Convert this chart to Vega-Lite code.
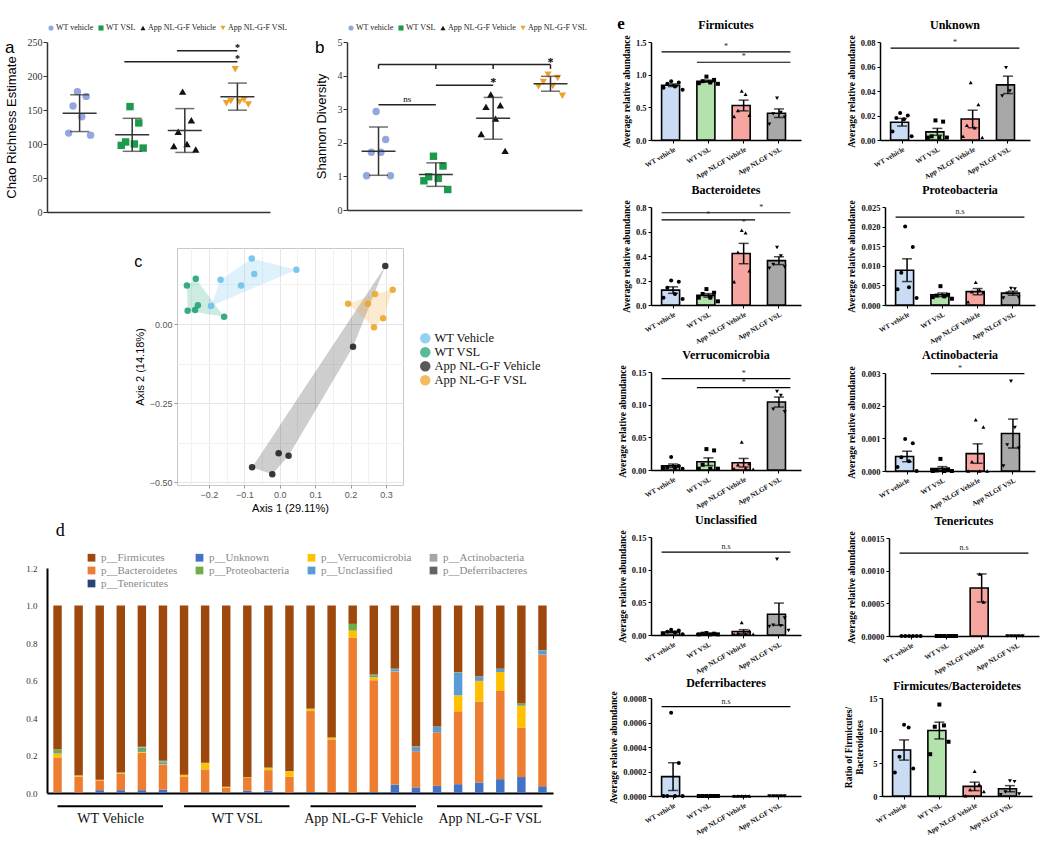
{
"$schema":"https://vega.github.io/schema/vega-lite/v6.json",
"padding":{"top":14,"left":5,"right":5,"bottom":0},
"background":"white",
"config":{"view":{"stroke":null},"font":"Liberation Sans","axis":{"grid":false,"labelOverlap":false}},
"datasets":{
"chao":[
{"group":"WT vehicle","rep":3,"value":177},{"group":"WT vehicle","rep":5,"value":170},{"group":"WT vehicle","rep":2,"value":156},{"group":"WT vehicle","rep":4,"value":140},{"group":"WT vehicle","rep":1,"value":116},{"group":"WT vehicle","rep":6,"value":113},
{"group":"WT VSL","rep":3,"value":155},{"group":"WT VSL","rep":5,"value":131},{"group":"WT VSL","rep":2,"value":103},{"group":"WT VSL","rep":4,"value":100},{"group":"WT VSL","rep":1,"value":98},{"group":"WT VSL","rep":6,"value":94},
{"group":"App NL-G-F Vehicle","rep":3,"value":177},{"group":"App NL-G-F Vehicle","rep":5,"value":135},{"group":"App NL-G-F Vehicle","rep":2,"value":118},{"group":"App NL-G-F Vehicle","rep":4,"value":100},{"group":"App NL-G-F Vehicle","rep":1,"value":97},{"group":"App NL-G-F Vehicle","rep":6,"value":92},
{"group":"App NL-G-F VSL","rep":3,"value":210},{"group":"App NL-G-F VSL","rep":5,"value":165},{"group":"App NL-G-F VSL","rep":2,"value":163},{"group":"App NL-G-F VSL","rep":4,"value":162},{"group":"App NL-G-F VSL","rep":1,"value":160},{"group":"App NL-G-F VSL","rep":6,"value":158}
],
"sigA":[
{"from":"WT VSL","to":"App NL-G-F VSL","sy":221,"label":"*"},
{"from":"App NL-G-F Vehicle","to":"App NL-G-F VSL","sy":237,"label":"*"}
],
"shannon":[
{"group":"WT vehicle","rep":3,"value":2.93},{"group":"WT vehicle","rep":5,"value":2.1},{"group":"WT vehicle","rep":2,"value":1.72},{"group":"WT vehicle","rep":4,"value":1.72},{"group":"WT vehicle","rep":1,"value":1.02},{"group":"WT vehicle","rep":6,"value":1.02},
{"group":"WT VSL","rep":3,"value":1.6},{"group":"WT VSL","rep":5,"value":1.31},{"group":"WT VSL","rep":2,"value":0.99},{"group":"WT VSL","rep":4,"value":0.94},{"group":"WT VSL","rep":1,"value":0.87},{"group":"WT VSL","rep":6,"value":0.61},
{"group":"App NL-G-F Vehicle","rep":3,"value":3.44},{"group":"App NL-G-F Vehicle","rep":5,"value":3.12},{"group":"App NL-G-F Vehicle","rep":2,"value":3.07},{"group":"App NL-G-F Vehicle","rep":4,"value":2.72},{"group":"App NL-G-F Vehicle","rep":1,"value":2.26},{"group":"App NL-G-F Vehicle","rep":6,"value":1.76},
{"group":"App NL-G-F VSL","rep":3,"value":4.03},{"group":"App NL-G-F VSL","rep":5,"value":3.93},{"group":"App NL-G-F VSL","rep":2,"value":3.81},{"group":"App NL-G-F VSL","rep":4,"value":3.69},{"group":"App NL-G-F VSL","rep":1,"value":3.68},{"group":"App NL-G-F VSL","rep":6,"value":3.4}
],
"sigB":[
{"t":"line","from":"WT vehicle","to":"App NL-G-F VSL","sy":4.33},
{"t":"line","from":"WT VSL","to":"App NL-G-F Vehicle","sy":3.71},
{"t":"line","from":"WT vehicle","to":"WT VSL","sy":3.13},
{"t":"tick","at":"WT vehicle","sy":4.33,"sy2":4.2},
{"t":"tick","at":"WT VSL","sy":4.33,"sy2":4.2},
{"t":"tick","at":"App NL-G-F Vehicle","sy":4.33,"sy2":4.2},
{"t":"tick","at":"App NL-G-F VSL","sy":4.33,"sy2":4.2},
{"t":"lab","at":"App NL-G-F VSL","sy":4.33,"label":"*"},
{"t":"lab","at":"App NL-G-F Vehicle","sy":3.71,"label":"*"},
{"t":"lab","at":"WT vehicle","sy":3.13,"label":"ns","mid":true}
],
"pcoa":[
{"group":"WT Vehicle","a1":-0.079,"a2":0.207},{"group":"WT Vehicle","a1":0.047,"a2":0.171},{"group":"WT Vehicle","a1":-0.072,"a2":0.158},{"group":"WT Vehicle","a1":-0.167,"a2":0.14},{"group":"WT Vehicle","a1":-0.109,"a2":0.122},{"group":"WT Vehicle","a1":-0.194,"a2":0.057},
{"group":"WT VSL","a1":-0.262,"a2":0.122},{"group":"WT VSL","a1":-0.237,"a2":0.143},{"group":"WT VSL","a1":-0.231,"a2":0.059},{"group":"WT VSL","a1":-0.239,"a2":0.044},{"group":"WT VSL","a1":-0.26,"a2":0.042},{"group":"WT VSL","a1":-0.157,"a2":0.023},
{"group":"App NL-G-F Vehicle","a1":0.298,"a2":0.183},{"group":"App NL-G-F Vehicle","a1":0.207,"a2":-0.072},{"group":"App NL-G-F Vehicle","a1":-0.003,"a2":-0.408},{"group":"App NL-G-F Vehicle","a1":0.025,"a2":-0.416},{"group":"App NL-G-F Vehicle","a1":-0.078,"a2":-0.452},{"group":"App NL-G-F Vehicle","a1":-0.021,"a2":-0.474},
{"group":"App NL-G-F VSL","a1":0.193,"a2":0.064},{"group":"App NL-G-F VSL","a1":0.249,"a2":0.064},{"group":"App NL-G-F VSL","a1":0.269,"a2":0.095},{"group":"App NL-G-F VSL","a1":0.319,"a2":0.108},{"group":"App NL-G-F VSL","a1":0.292,"a2":0.018},{"group":"App NL-G-F VSL","a1":0.266,"a2":-0.01}
],
"hull":[
{"hg":"WT Vehicle","vi":1,"a1":-0.079,"a2":0.207},{"hg":"WT Vehicle","vi":2,"a1":0.047,"a2":0.171},{"hg":"WT Vehicle","vi":3,"a1":-0.194,"a2":0.057},{"hg":"WT Vehicle","vi":4,"a1":-0.167,"a2":0.14},
{"hg":"WT VSL","vi":1,"a1":-0.237,"a2":0.143},{"hg":"WT VSL","vi":2,"a1":-0.157,"a2":0.023},{"hg":"WT VSL","vi":3,"a1":-0.26,"a2":0.042},{"hg":"WT VSL","vi":4,"a1":-0.262,"a2":0.122},
{"hg":"App NL-G-F Vehicle","vi":1,"a1":0.298,"a2":0.183},{"hg":"App NL-G-F Vehicle","vi":2,"a1":0.207,"a2":-0.072},{"hg":"App NL-G-F Vehicle","vi":3,"a1":0.025,"a2":-0.416},{"hg":"App NL-G-F Vehicle","vi":4,"a1":-0.021,"a2":-0.474},{"hg":"App NL-G-F Vehicle","vi":5,"a1":-0.078,"a2":-0.452},
{"hg":"App NL-G-F VSL","vi":1,"a1":0.193,"a2":0.064},{"hg":"App NL-G-F VSL","vi":2,"a1":0.269,"a2":0.095},{"hg":"App NL-G-F VSL","vi":3,"a1":0.319,"a2":0.108},{"hg":"App NL-G-F VSL","vi":4,"a1":0.292,"a2":0.018},{"hg":"App NL-G-F VSL","vi":5,"a1":0.266,"a2":-0.01}
],
"stack":[
{"s":"S01","p":"p__Unknown","k":1,"v":0.003},{"s":"S01","p":"p__Bacteroidetes","k":3,"v":0.187},{"s":"S01","p":"p__Verrucomicrobia","k":4,"v":0.02},{"s":"S01","p":"p__Unclassified","k":5,"v":0.003},{"s":"S01","p":"p__Proteobacteria","k":6,"v":0.017},{"s":"S01","p":"p__Actinobacteria","k":7,"v":0.002},{"s":"S01","p":"p__Firmicutes","k":9,"v":0.768},
{"s":"S02","p":"p__Unknown","k":1,"v":0.002},{"s":"S02","p":"p__Bacteroidetes","k":3,"v":0.085},{"s":"S02","p":"p__Verrucomicrobia","k":4,"v":0.005},{"s":"S02","p":"p__Proteobacteria","k":6,"v":0.002},{"s":"S02","p":"p__Actinobacteria","k":7,"v":0.001},{"s":"S02","p":"p__Firmicutes","k":9,"v":0.905},
{"s":"S03","p":"p__Unknown","k":1,"v":0.015},{"s":"S03","p":"p__Bacteroidetes","k":3,"v":0.052},{"s":"S03","p":"p__Verrucomicrobia","k":4,"v":0.002},{"s":"S03","p":"p__Proteobacteria","k":6,"v":0.001},{"s":"S03","p":"p__Actinobacteria","k":7,"v":0.001},{"s":"S03","p":"p__Firmicutes","k":9,"v":0.929},
{"s":"S04","p":"p__Unknown","k":1,"v":0.015},{"s":"S04","p":"p__Bacteroidetes","k":3,"v":0.088},{"s":"S04","p":"p__Verrucomicrobia","k":4,"v":0.003},{"s":"S04","p":"p__Proteobacteria","k":6,"v":0.002},{"s":"S04","p":"p__Actinobacteria","k":7,"v":0.001},{"s":"S04","p":"p__Firmicutes","k":9,"v":0.891},
{"s":"S05","p":"p__Unknown","k":1,"v":0.015},{"s":"S05","p":"p__Bacteroidetes","k":3,"v":0.2},{"s":"S05","p":"p__Verrucomicrobia","k":4,"v":0.004},{"s":"S05","p":"p__Unclassified","k":5,"v":0.005},{"s":"S05","p":"p__Proteobacteria","k":6,"v":0.018},{"s":"S05","p":"p__Actinobacteria","k":7,"v":0.004},{"s":"S05","p":"p__Deferribacteres","k":8,"v":0.001},{"s":"S05","p":"p__Firmicutes","k":9,"v":0.753},
{"s":"S06","p":"p__Unknown","k":1,"v":0.018},{"s":"S06","p":"p__Bacteroidetes","k":3,"v":0.132},{"s":"S06","p":"p__Verrucomicrobia","k":4,"v":0.003},{"s":"S06","p":"p__Unclassified","k":5,"v":0.008},{"s":"S06","p":"p__Proteobacteria","k":6,"v":0.008},{"s":"S06","p":"p__Actinobacteria","k":7,"v":0.003},{"s":"S06","p":"p__Firmicutes","k":9,"v":0.828},
{"s":"S07","p":"p__Unknown","k":1,"v":0.003},{"s":"S07","p":"p__Bacteroidetes","k":3,"v":0.085},{"s":"S07","p":"p__Verrucomicrobia","k":4,"v":0.008},{"s":"S07","p":"p__Proteobacteria","k":6,"v":0.001},{"s":"S07","p":"p__Firmicutes","k":9,"v":0.903},
{"s":"S08","p":"p__Unknown","k":1,"v":0.004},{"s":"S08","p":"p__Bacteroidetes","k":3,"v":0.122},{"s":"S08","p":"p__Verrucomicrobia","k":4,"v":0.033},{"s":"S08","p":"p__Proteobacteria","k":6,"v":0.003},{"s":"S08","p":"p__Firmicutes","k":9,"v":0.838},
{"s":"S09","p":"p__Unknown","k":1,"v":0.003},{"s":"S09","p":"p__Bacteroidetes","k":3,"v":0.025},{"s":"S09","p":"p__Verrucomicrobia","k":4,"v":0.004},{"s":"S09","p":"p__Proteobacteria","k":6,"v":0.001},{"s":"S09","p":"p__Firmicutes","k":9,"v":0.967},
{"s":"S10","p":"p__Unknown","k":1,"v":0.012},{"s":"S10","p":"p__Bacteroidetes","k":3,"v":0.068},{"s":"S10","p":"p__Verrucomicrobia","k":4,"v":0.003},{"s":"S10","p":"p__Proteobacteria","k":6,"v":0.001},{"s":"S10","p":"p__Firmicutes","k":9,"v":0.916},
{"s":"S11","p":"p__Unknown","k":1,"v":0.012},{"s":"S11","p":"p__Bacteroidetes","k":3,"v":0.11},{"s":"S11","p":"p__Verrucomicrobia","k":4,"v":0.01},{"s":"S11","p":"p__Proteobacteria","k":6,"v":0.004},{"s":"S11","p":"p__Firmicutes","k":9,"v":0.864},
{"s":"S12","p":"p__Unknown","k":1,"v":0.002},{"s":"S12","p":"p__Bacteroidetes","k":3,"v":0.085},{"s":"S12","p":"p__Verrucomicrobia","k":4,"v":0.028},{"s":"S12","p":"p__Proteobacteria","k":6,"v":0.002},{"s":"S12","p":"p__Firmicutes","k":9,"v":0.883},
{"s":"S13","p":"p__Unknown","k":1,"v":0.005},{"s":"S13","p":"p__Bacteroidetes","k":3,"v":0.432},{"s":"S13","p":"p__Verrucomicrobia","k":4,"v":0.01},{"s":"S13","p":"p__Proteobacteria","k":6,"v":0.004},{"s":"S13","p":"p__Firmicutes","k":9,"v":0.549},
{"s":"S14","p":"p__Unknown","k":1,"v":0.002},{"s":"S14","p":"p__Bacteroidetes","k":3,"v":0.284},{"s":"S14","p":"p__Verrucomicrobia","k":4,"v":0.009},{"s":"S14","p":"p__Proteobacteria","k":6,"v":0.001},{"s":"S14","p":"p__Firmicutes","k":9,"v":0.704},
{"s":"S15","p":"p__Unknown","k":1,"v":0.002},{"s":"S15","p":"p__Bacteroidetes","k":3,"v":0.826},{"s":"S15","p":"p__Verrucomicrobia","k":4,"v":0.038},{"s":"S15","p":"p__Proteobacteria","k":6,"v":0.036},{"s":"S15","p":"p__Firmicutes","k":9,"v":0.098},
{"s":"S16","p":"p__Unknown","k":1,"v":0.005},{"s":"S16","p":"p__Bacteroidetes","k":3,"v":0.597},{"s":"S16","p":"p__Verrucomicrobia","k":4,"v":0.016},{"s":"S16","p":"p__Unclassified","k":5,"v":0.007},{"s":"S16","p":"p__Proteobacteria","k":6,"v":0.007},{"s":"S16","p":"p__Firmicutes","k":9,"v":0.368},
{"s":"S17","p":"p__Unknown","k":1,"v":0.045},{"s":"S17","p":"p__Bacteroidetes","k":3,"v":0.602},{"s":"S17","p":"p__Verrucomicrobia","k":4,"v":0.001},{"s":"S17","p":"p__Unclassified","k":5,"v":0.012},{"s":"S17","p":"p__Proteobacteria","k":6,"v":0.003},{"s":"S17","p":"p__Firmicutes","k":9,"v":0.337},
{"s":"S18","p":"p__Unknown","k":1,"v":0.029},{"s":"S18","p":"p__Tenericutes","k":2,"v":0.001},{"s":"S18","p":"p__Bacteroidetes","k":3,"v":0.193},{"s":"S18","p":"p__Unclassified","k":5,"v":0.022},{"s":"S18","p":"p__Proteobacteria","k":6,"v":0.002},{"s":"S18","p":"p__Actinobacteria","k":7,"v":0.003},{"s":"S18","p":"p__Firmicutes","k":9,"v":0.75},
{"s":"S19","p":"p__Unknown","k":1,"v":0.038},{"s":"S19","p":"p__Bacteroidetes","k":3,"v":0.286},{"s":"S19","p":"p__Unclassified","k":5,"v":0.029},{"s":"S19","p":"p__Proteobacteria","k":6,"v":0.002},{"s":"S19","p":"p__Firmicutes","k":9,"v":0.645},
{"s":"S20","p":"p__Unknown","k":1,"v":0.047},{"s":"S20","p":"p__Bacteroidetes","k":3,"v":0.389},{"s":"S20","p":"p__Verrucomicrobia","k":4,"v":0.085},{"s":"S20","p":"p__Unclassified","k":5,"v":0.121},{"s":"S20","p":"p__Proteobacteria","k":6,"v":0.003},{"s":"S20","p":"p__Firmicutes","k":9,"v":0.355},
{"s":"S21","p":"p__Unknown","k":1,"v":0.056},{"s":"S21","p":"p__Bacteroidetes","k":3,"v":0.432},{"s":"S21","p":"p__Verrucomicrobia","k":4,"v":0.11},{"s":"S21","p":"p__Unclassified","k":5,"v":0.022},{"s":"S21","p":"p__Proteobacteria","k":6,"v":0.002},{"s":"S21","p":"p__Firmicutes","k":9,"v":0.378},
{"s":"S22","p":"p__Unknown","k":1,"v":0.074},{"s":"S22","p":"p__Bacteroidetes","k":3,"v":0.47},{"s":"S22","p":"p__Verrucomicrobia","k":4,"v":0.101},{"s":"S22","p":"p__Unclassified","k":5,"v":0.016},{"s":"S22","p":"p__Proteobacteria","k":6,"v":0.002},{"s":"S22","p":"p__Firmicutes","k":9,"v":0.337},
{"s":"S23","p":"p__Unknown","k":1,"v":0.085},{"s":"S23","p":"p__Bacteroidetes","k":3,"v":0.264},{"s":"S23","p":"p__Verrucomicrobia","k":4,"v":0.116},{"s":"S23","p":"p__Unclassified","k":5,"v":0.004},{"s":"S23","p":"p__Proteobacteria","k":6,"v":0.01},{"s":"S23","p":"p__Firmicutes","k":9,"v":0.521},
{"s":"S24","p":"p__Unknown","k":1,"v":0.036},{"s":"S24","p":"p__Bacteroidetes","k":3,"v":0.702},{"s":"S24","p":"p__Unclassified","k":5,"v":0.022},{"s":"S24","p":"p__Proteobacteria","k":6,"v":0.002},{"s":"S24","p":"p__Firmicutes","k":9,"v":0.238}
],
"grp":[
{"g":"WT Vehicle","from":"S01","to":"S06","at":"S04"},
{"g":"WT VSL","from":"S07","to":"S12","at":"S10"},
{"g":"App NL-G-F Vehicle","from":"S13","to":"S18","at":"S16"},
{"g":"App NL-G-F VSL","from":"S19","to":"S24","at":"S22"}
],
"e":[
{"panel":"Firmicutes","kind":"pt","group":"WV","rep":3,"value":0.9},{"panel":"Firmicutes","kind":"pt","group":"WV","rep":5,"value":0.88},{"panel":"Firmicutes","kind":"pt","group":"WV","rep":2,"value":0.86},{"panel":"Firmicutes","kind":"pt","group":"WV","rep":4,"value":0.82},{"panel":"Firmicutes","kind":"pt","group":"WV","rep":1,"value":0.8},{"panel":"Firmicutes","kind":"pt","group":"WV","rep":6,"value":0.77},
{"panel":"Firmicutes","kind":"pt","group":"WS","rep":3,"value":0.97},{"panel":"Firmicutes","kind":"pt","group":"WS","rep":5,"value":0.92},{"panel":"Firmicutes","kind":"pt","group":"WS","rep":2,"value":0.9},{"panel":"Firmicutes","kind":"pt","group":"WS","rep":4,"value":0.88},{"panel":"Firmicutes","kind":"pt","group":"WS","rep":1,"value":0.87},{"panel":"Firmicutes","kind":"pt","group":"WS","rep":6,"value":0.86},
{"panel":"Firmicutes","kind":"pt","group":"AV","rep":3,"value":0.75},{"panel":"Firmicutes","kind":"pt","group":"AV","rep":4,"value":0.7},{"panel":"Firmicutes","kind":"pt","group":"AV","rep":2,"value":0.45},{"panel":"Firmicutes","kind":"pt","group":"AV","rep":5,"value":0.38},{"panel":"Firmicutes","kind":"pt","group":"AV","rep":1,"value":0.36},
{"panel":"Firmicutes","kind":"pt","group":"AS","rep":3,"value":0.64},{"panel":"Firmicutes","kind":"pt","group":"AS","rep":4,"value":0.42},{"panel":"Firmicutes","kind":"pt","group":"AS","rep":2,"value":0.4},{"panel":"Firmicutes","kind":"pt","group":"AS","rep":5,"value":0.35},{"panel":"Firmicutes","kind":"pt","group":"AS","rep":1,"value":0.24},
{"panel":"Firmicutes","kind":"sig","from":"WV","to":"AS","sy":1.35,"label":"*","at":"WS","mid":true},
{"panel":"Firmicutes","kind":"sig","from":"WS","to":"AS","sy":1.19,"label":"*","at":"AV"},
{"panel":"Unknown","kind":"pt","group":"WV","rep":3,"value":0.022},{"panel":"Unknown","kind":"pt","group":"WV","rep":5,"value":0.02},{"panel":"Unknown","kind":"pt","group":"WV","rep":2,"value":0.018},{"panel":"Unknown","kind":"pt","group":"WV","rep":4,"value":0.017},{"panel":"Unknown","kind":"pt","group":"WV","rep":1,"value":0.007},{"panel":"Unknown","kind":"pt","group":"WV","rep":6,"value":0.003},
{"panel":"Unknown","kind":"pt","group":"WS","rep":3,"value":0.016},{"panel":"Unknown","kind":"pt","group":"WS","rep":5,"value":0.015},{"panel":"Unknown","kind":"pt","group":"WS","rep":2,"value":0.003},{"panel":"Unknown","kind":"pt","group":"WS","rep":4,"value":0.002},{"panel":"Unknown","kind":"pt","group":"WS","rep":1,"value":0.002},{"panel":"Unknown","kind":"pt","group":"WS","rep":6,"value":0.002},
{"panel":"Unknown","kind":"pt","group":"AV","rep":3,"value":0.047},{"panel":"Unknown","kind":"pt","group":"AV","rep":5,"value":0.029},{"panel":"Unknown","kind":"pt","group":"AV","rep":2,"value":0.012},{"panel":"Unknown","kind":"pt","group":"AV","rep":4,"value":0.01},{"panel":"Unknown","kind":"pt","group":"AV","rep":1,"value":0.003},{"panel":"Unknown","kind":"pt","group":"AV","rep":6,"value":0.002},
{"panel":"Unknown","kind":"pt","group":"AS","rep":3,"value":0.059},{"panel":"Unknown","kind":"pt","group":"AS","rep":4,"value":0.04},{"panel":"Unknown","kind":"pt","group":"AS","rep":2,"value":0.036},
{"panel":"Unknown","kind":"sig","from":"WV","to":"AS","sy":0.075,"label":"*","at":"WS","mid":true},
{"panel":"Bacteroidetes","kind":"pt","group":"WV","rep":3,"value":0.2},{"panel":"Bacteroidetes","kind":"pt","group":"WV","rep":5,"value":0.19},{"panel":"Bacteroidetes","kind":"pt","group":"WV","rep":2,"value":0.14},{"panel":"Bacteroidetes","kind":"pt","group":"WV","rep":4,"value":0.09},{"panel":"Bacteroidetes","kind":"pt","group":"WV","rep":1,"value":0.06},{"panel":"Bacteroidetes","kind":"pt","group":"WV","rep":6,"value":0.05},
{"panel":"Bacteroidetes","kind":"pt","group":"WS","rep":3,"value":0.13},{"panel":"Bacteroidetes","kind":"pt","group":"WS","rep":5,"value":0.1},{"panel":"Bacteroidetes","kind":"pt","group":"WS","rep":2,"value":0.09},{"panel":"Bacteroidetes","kind":"pt","group":"WS","rep":4,"value":0.06},{"panel":"Bacteroidetes","kind":"pt","group":"WS","rep":1,"value":0.06},{"panel":"Bacteroidetes","kind":"pt","group":"WS","rep":6,"value":0.03},
{"panel":"Bacteroidetes","kind":"pt","group":"AV","rep":3,"value":0.61},{"panel":"Bacteroidetes","kind":"pt","group":"AV","rep":4,"value":0.59},{"panel":"Bacteroidetes","kind":"pt","group":"AV","rep":2,"value":0.43},{"panel":"Bacteroidetes","kind":"pt","group":"AV","rep":5,"value":0.28},{"panel":"Bacteroidetes","kind":"pt","group":"AV","rep":1,"value":0.19},
{"panel":"Bacteroidetes","kind":"pt","group":"AS","rep":3,"value":0.47},{"panel":"Bacteroidetes","kind":"pt","group":"AS","rep":4,"value":0.4},{"panel":"Bacteroidetes","kind":"pt","group":"AS","rep":2,"value":0.33},{"panel":"Bacteroidetes","kind":"pt","group":"AS","rep":5,"value":0.31},{"panel":"Bacteroidetes","kind":"pt","group":"AS","rep":1,"value":0.3},
{"panel":"Bacteroidetes","kind":"sig","from":"WV","to":"AS","sy":0.753,"label":"*","at":"AV","mid":true},
{"panel":"Bacteroidetes","kind":"sig","from":"WV","to":"AV","sy":0.695,"label":"*","at":"WS"},
{"panel":"Bacteroidetes","kind":"sig","sy":0.625,"label":"*","at":"AV"},
{"panel":"Proteobacteria","kind":"pt","group":"WV","rep":3,"value":0.02},{"panel":"Proteobacteria","kind":"pt","group":"WV","rep":5,"value":0.0148},{"panel":"Proteobacteria","kind":"pt","group":"WV","rep":2,"value":0.0082},{"panel":"Proteobacteria","kind":"pt","group":"WV","rep":4,"value":0.0045},{"panel":"Proteobacteria","kind":"pt","group":"WV","rep":1,"value":0.004},{"panel":"Proteobacteria","kind":"pt","group":"WV","rep":6,"value":0.0018},
{"panel":"Proteobacteria","kind":"pt","group":"WS","rep":3,"value":0.0048},{"panel":"Proteobacteria","kind":"pt","group":"WS","rep":5,"value":0.0026},{"panel":"Proteobacteria","kind":"pt","group":"WS","rep":2,"value":0.0024},{"panel":"Proteobacteria","kind":"pt","group":"WS","rep":4,"value":0.0022},{"panel":"Proteobacteria","kind":"pt","group":"WS","rep":1,"value":0.002},{"panel":"Proteobacteria","kind":"pt","group":"WS","rep":6,"value":0.0016},
{"panel":"Proteobacteria","kind":"pt","group":"AV","rep":3,"value":0.0058},{"panel":"Proteobacteria","kind":"pt","group":"AV","rep":4,"value":0.0038},{"panel":"Proteobacteria","kind":"pt","group":"AV","rep":2,"value":0.0034},{"panel":"Proteobacteria","kind":"pt","group":"AV","rep":5,"value":0.0032},{"panel":"Proteobacteria","kind":"pt","group":"AV","rep":1,"value":0.0008},
{"panel":"Proteobacteria","kind":"pt","group":"AS","rep":3,"value":0.0042},{"panel":"Proteobacteria","kind":"pt","group":"AS","rep":4,"value":0.0041},{"panel":"Proteobacteria","kind":"pt","group":"AS","rep":2,"value":0.003},{"panel":"Proteobacteria","kind":"pt","group":"AS","rep":5,"value":0.002},{"panel":"Proteobacteria","kind":"pt","group":"AS","rep":1,"value":0.0018},
{"panel":"Proteobacteria","kind":"sig","from":"WV","to":"AS","sy":0.0224,"label":"n.s","at":"WS","mid":true},
{"panel":"Verrucomicrobia","kind":"pt","group":"WV","rep":3,"value":0.02},{"panel":"Verrucomicrobia","kind":"pt","group":"WV","rep":5,"value":0.006},{"panel":"Verrucomicrobia","kind":"pt","group":"WV","rep":2,"value":0.004},{"panel":"Verrucomicrobia","kind":"pt","group":"WV","rep":4,"value":0.003},{"panel":"Verrucomicrobia","kind":"pt","group":"WV","rep":1,"value":0.003},{"panel":"Verrucomicrobia","kind":"pt","group":"WV","rep":6,"value":0.002},
{"panel":"Verrucomicrobia","kind":"pt","group":"WS","rep":3,"value":0.032},{"panel":"Verrucomicrobia","kind":"pt","group":"WS","rep":5,"value":0.03},{"panel":"Verrucomicrobia","kind":"pt","group":"WS","rep":2,"value":0.008},{"panel":"Verrucomicrobia","kind":"pt","group":"WS","rep":4,"value":0.002},{"panel":"Verrucomicrobia","kind":"pt","group":"WS","rep":1,"value":0.002},{"panel":"Verrucomicrobia","kind":"pt","group":"WS","rep":6,"value":0.002},
{"panel":"Verrucomicrobia","kind":"pt","group":"AV","rep":3,"value":0.043},{"panel":"Verrucomicrobia","kind":"pt","group":"AV","rep":5,"value":0.01},{"panel":"Verrucomicrobia","kind":"pt","group":"AV","rep":2,"value":0.008},{"panel":"Verrucomicrobia","kind":"pt","group":"AV","rep":4,"value":0.003},{"panel":"Verrucomicrobia","kind":"pt","group":"AV","rep":1,"value":0.002},{"panel":"Verrucomicrobia","kind":"pt","group":"AV","rep":6,"value":0.001},
{"panel":"Verrucomicrobia","kind":"pt","group":"AS","rep":3,"value":0.12},{"panel":"Verrucomicrobia","kind":"pt","group":"AS","rep":4,"value":0.114},{"panel":"Verrucomicrobia","kind":"pt","group":"AS","rep":2,"value":0.093},{"panel":"Verrucomicrobia","kind":"pt","group":"AS","rep":5,"value":0.089},
{"panel":"Verrucomicrobia","kind":"sig","from":"WV","to":"AS","sy":0.14,"label":"*","at":"AV"},
{"panel":"Verrucomicrobia","kind":"sig","from":"WS","to":"AS","sy":0.126,"label":"*","at":"AV"},
{"panel":"Actinobacteria","kind":"pt","group":"WV","rep":3,"value":0.00098},{"panel":"Actinobacteria","kind":"pt","group":"WV","rep":5,"value":0.00085},{"panel":"Actinobacteria","kind":"pt","group":"WV","rep":2,"value":0.00042},{"panel":"Actinobacteria","kind":"pt","group":"WV","rep":4,"value":0.0003},{"panel":"Actinobacteria","kind":"pt","group":"WV","rep":1,"value":0.00012},{"panel":"Actinobacteria","kind":"pt","group":"WV","rep":6,"value":0},
{"panel":"Actinobacteria","kind":"pt","group":"WS","rep":3,"value":0.00037},{"panel":"Actinobacteria","kind":"pt","group":"WS","rep":5,"value":0.00005},{"panel":"Actinobacteria","kind":"pt","group":"WS","rep":2,"value":0.00002},{"panel":"Actinobacteria","kind":"pt","group":"WS","rep":4,"value":0},{"panel":"Actinobacteria","kind":"pt","group":"WS","rep":1,"value":0},{"panel":"Actinobacteria","kind":"pt","group":"WS","rep":6,"value":0},
{"panel":"Actinobacteria","kind":"pt","group":"AV","rep":3,"value":0.00157},{"panel":"Actinobacteria","kind":"pt","group":"AV","rep":5,"value":0.00135},{"panel":"Actinobacteria","kind":"pt","group":"AV","rep":2,"value":0.00028},{"panel":"Actinobacteria","kind":"pt","group":"AV","rep":4,"value":0},{"panel":"Actinobacteria","kind":"pt","group":"AV","rep":1,"value":0},{"panel":"Actinobacteria","kind":"pt","group":"AV","rep":6,"value":0},
{"panel":"Actinobacteria","kind":"pt","group":"AS","rep":3,"value":0.00275},{"panel":"Actinobacteria","kind":"pt","group":"AS","rep":4,"value":0.00133},{"panel":"Actinobacteria","kind":"pt","group":"AS","rep":2,"value":0.0008},{"panel":"Actinobacteria","kind":"pt","group":"AS","rep":5,"value":0.0007},{"panel":"Actinobacteria","kind":"pt","group":"AS","rep":1,"value":0.00015},
{"panel":"Actinobacteria","kind":"sig","from":"WS","to":"AS","sy":0.00298,"label":"*","at":"WS","mid":true},
{"panel":"Unclassified","kind":"pt","group":"WV","rep":3,"value":0.008},{"panel":"Unclassified","kind":"pt","group":"WV","rep":5,"value":0.007},{"panel":"Unclassified","kind":"pt","group":"WV","rep":2,"value":0.005},{"panel":"Unclassified","kind":"pt","group":"WV","rep":4,"value":0.004},{"panel":"Unclassified","kind":"pt","group":"WV","rep":1,"value":0.002},{"panel":"Unclassified","kind":"pt","group":"WV","rep":6,"value":0.001},
{"panel":"Unclassified","kind":"pt","group":"WS","rep":3,"value":0.003},{"panel":"Unclassified","kind":"pt","group":"WS","rep":5,"value":0.002},{"panel":"Unclassified","kind":"pt","group":"WS","rep":2,"value":0.002},{"panel":"Unclassified","kind":"pt","group":"WS","rep":4,"value":0.001},{"panel":"Unclassified","kind":"pt","group":"WS","rep":1,"value":0.001},{"panel":"Unclassified","kind":"pt","group":"WS","rep":6,"value":0.001},
{"panel":"Unclassified","kind":"pt","group":"AV","rep":3,"value":0.019},{"panel":"Unclassified","kind":"pt","group":"AV","rep":5,"value":0.006},{"panel":"Unclassified","kind":"pt","group":"AV","rep":2,"value":0.003},{"panel":"Unclassified","kind":"pt","group":"AV","rep":4,"value":0.002},{"panel":"Unclassified","kind":"pt","group":"AV","rep":1,"value":0.001},{"panel":"Unclassified","kind":"pt","group":"AV","rep":6,"value":0.001},
{"panel":"Unclassified","kind":"pt","group":"AS","rep":3,"value":0.116},{"panel":"Unclassified","kind":"pt","group":"AS","rep":5,"value":0.026},{"panel":"Unclassified","kind":"pt","group":"AS","rep":2,"value":0.015},{"panel":"Unclassified","kind":"pt","group":"AS","rep":4,"value":0.014},{"panel":"Unclassified","kind":"pt","group":"AS","rep":1,"value":0.013},{"panel":"Unclassified","kind":"pt","group":"AS","rep":6,"value":0.007},
{"panel":"Unclassified","kind":"sig","from":"WV","to":"AS","sy":0.127,"label":"n.s","at":"WS","mid":true},
{"panel":"Tenericutes","kind":"pt","group":"WV","rep":1,"value":0},{"panel":"Tenericutes","kind":"pt","group":"WV","rep":2,"value":0},{"panel":"Tenericutes","kind":"pt","group":"WV","rep":3,"value":0},{"panel":"Tenericutes","kind":"pt","group":"WV","rep":4,"value":0},{"panel":"Tenericutes","kind":"pt","group":"WV","rep":5,"value":0},{"panel":"Tenericutes","kind":"pt","group":"WV","rep":6,"value":0},
{"panel":"Tenericutes","kind":"pt","group":"WS","rep":1,"value":0},{"panel":"Tenericutes","kind":"pt","group":"WS","rep":2,"value":0},{"panel":"Tenericutes","kind":"pt","group":"WS","rep":3,"value":0},{"panel":"Tenericutes","kind":"pt","group":"WS","rep":4,"value":0},{"panel":"Tenericutes","kind":"pt","group":"WS","rep":5,"value":0},{"panel":"Tenericutes","kind":"pt","group":"WS","rep":6,"value":0},
{"panel":"Tenericutes","kind":"pt","group":"AV","rep":3,"value":0.00095},{"panel":"Tenericutes","kind":"pt","group":"AV","rep":4,"value":0.00052},
{"panel":"Tenericutes","kind":"pt","group":"AS","rep":1,"value":0},{"panel":"Tenericutes","kind":"pt","group":"AS","rep":2,"value":0},{"panel":"Tenericutes","kind":"pt","group":"AS","rep":3,"value":0},{"panel":"Tenericutes","kind":"pt","group":"AS","rep":4,"value":0},{"panel":"Tenericutes","kind":"pt","group":"AS","rep":5,"value":0},
{"panel":"Tenericutes","kind":"sig","from":"WV","to":"AS","sy":0.00127,"label":"n.s","at":"WS","mid":true},
{"panel":"Deferribacteres","kind":"pt","group":"WV","rep":3,"value":0.00068},{"panel":"Deferribacteres","kind":"pt","group":"WV","rep":5,"value":0.00027},{"panel":"Deferribacteres","kind":"pt","group":"WV","rep":2,"value":0},{"panel":"Deferribacteres","kind":"pt","group":"WV","rep":4,"value":0},{"panel":"Deferribacteres","kind":"pt","group":"WV","rep":1,"value":0},{"panel":"Deferribacteres","kind":"pt","group":"WV","rep":6,"value":0},
{"panel":"Deferribacteres","kind":"pt","group":"WS","rep":1,"value":0},{"panel":"Deferribacteres","kind":"pt","group":"WS","rep":2,"value":0},{"panel":"Deferribacteres","kind":"pt","group":"WS","rep":3,"value":0},{"panel":"Deferribacteres","kind":"pt","group":"WS","rep":4,"value":0},{"panel":"Deferribacteres","kind":"pt","group":"WS","rep":5,"value":0},{"panel":"Deferribacteres","kind":"pt","group":"WS","rep":6,"value":0},
{"panel":"Deferribacteres","kind":"pt","group":"AV","rep":1,"value":0},{"panel":"Deferribacteres","kind":"pt","group":"AV","rep":2,"value":0},{"panel":"Deferribacteres","kind":"pt","group":"AV","rep":3,"value":0},{"panel":"Deferribacteres","kind":"pt","group":"AV","rep":4,"value":0},{"panel":"Deferribacteres","kind":"pt","group":"AV","rep":5,"value":0},
{"panel":"Deferribacteres","kind":"pt","group":"AS","rep":1,"value":0},{"panel":"Deferribacteres","kind":"pt","group":"AS","rep":2,"value":0},{"panel":"Deferribacteres","kind":"pt","group":"AS","rep":3,"value":0},{"panel":"Deferribacteres","kind":"pt","group":"AS","rep":4,"value":0},{"panel":"Deferribacteres","kind":"pt","group":"AS","rep":5,"value":0},
{"panel":"Deferribacteres","kind":"sig","from":"WV","to":"AS","sy":0.00073,"label":"n.s","at":"WS","mid":true},
{"panel":"FB","kind":"pt","group":"WV","rep":3,"value":10.9},{"panel":"FB","kind":"pt","group":"WV","rep":4,"value":10.5},{"panel":"FB","kind":"pt","group":"WV","rep":2,"value":6.0},{"panel":"FB","kind":"pt","group":"WV","rep":5,"value":4.2},{"panel":"FB","kind":"pt","group":"WV","rep":1,"value":3.6},
{"panel":"FB","kind":"pt","group":"WS","rep":3,"value":14.0},{"panel":"FB","kind":"pt","group":"WS","rep":4,"value":10.8},{"panel":"FB","kind":"pt","group":"WS","rep":2,"value":10.6},{"panel":"FB","kind":"pt","group":"WS","rep":5,"value":8.3},{"panel":"FB","kind":"pt","group":"WS","rep":1,"value":6.4},
{"panel":"FB","kind":"pt","group":"AV","rep":3,"value":3.8},{"panel":"FB","kind":"pt","group":"AV","rep":4,"value":1.8},{"panel":"FB","kind":"pt","group":"AV","rep":2,"value":1.0},{"panel":"FB","kind":"pt","group":"AV","rep":5,"value":0.7},{"panel":"FB","kind":"pt","group":"AV","rep":1,"value":0.05},
{"panel":"FB","kind":"pt","group":"AS","rep":3,"value":2.3},{"panel":"FB","kind":"pt","group":"AS","rep":4,"value":2.2},{"panel":"FB","kind":"pt","group":"AS","rep":2,"value":0.6},{"panel":"FB","kind":"pt","group":"AS","rep":5,"value":0.3},{"panel":"FB","kind":"pt","group":"AS","rep":1,"value":0.2}
]
},
"spacing":20,
"resolve":{"scale":{"color":"independent","shape":"independent","fill":"independent","xOffset":"independent"}},
"hconcat":[
{"spacing":8,
 "resolve":{"scale":{"color":"independent","shape":"independent","fill":"independent","xOffset":"independent"}},
 "vconcat":[
 {"spacing":27,
  "resolve":{"scale":{"color":"independent","shape":"independent","fill":"independent","xOffset":"independent"}},
  "hconcat":[
  {"data":{"name":"chao"},"width":223,"height":170,
   "title":{"text":"a","anchor":"start","frame":"bounds","offset":-33,"fontSize":17,"fontWeight":"normal","font":"Liberation Sans"},
   "layer":[
    {"mark":{"type":"point","filled":true,"size":55,"opacity":1},
     "encoding":{
      "x":{"field":"group","type":"nominal","title":null,"scale":{"domain":["WT vehicle","WT VSL","App NL-G-F Vehicle","App NL-G-F VSL"],"paddingInner":0.5,"paddingOuter":0.37},"axis":{"labels":false,"ticks":false,"domainWidth":1.5,"domainColor":"#333"}},
      "xOffset":{"field":"rep","type":"nominal"},
      "y":{"field":"value","type":"quantitative","title":"Chao Richness Estimate","scale":{"domain":[0,250],"nice":false},"axis":{"values":[0,50,100,150,200,250],"tickCount":12,"format":"d","labelOverlap":false,"labelFont":"Liberation Serif","labelFontSize":10,"titleFont":"Liberation Sans","titleFontSize":13,"titleFontWeight":"normal","titlePadding":9,"domainWidth":1.5,"domainColor":"#333","tickColor":"#333","tickSize":4,"labelPadding":1,"labelColor":"#333"}},
      "color":{"field":"group","type":"nominal","scale":{"domain":["WT vehicle","WT VSL","App NL-G-F Vehicle","App NL-G-F VSL"],"range":["#93a6dd","#1a9a4a","#111111","#eea12d"]},"legend":{"orient":"top","direction":"horizontal","title":null,"labelFont":"Liberation Serif","labelFontSize":8,"symbolSize":26,"labelOffset":1,"columnPadding":3,"offset":10,"padding":0,"labelColor":"#222"}},
      "shape":{"field":"group","type":"nominal","scale":{"domain":["WT vehicle","WT VSL","App NL-G-F Vehicle","App NL-G-F VSL"],"range":["circle","square","triangle-up","triangle-down"]},"legend":{"orient":"top","direction":"horizontal","title":null,"labelFont":"Liberation Serif","labelFontSize":8,"symbolSize":26,"labelOffset":1,"columnPadding":3,"offset":10,"padding":0,"labelColor":"#222"}}}},
    {"mark":{"type":"errorbar","extent":"stdev","ticks":{"size":19},"thickness":1.5,"color":"#333"},
     "encoding":{"x":{"field":"group","type":"nominal","title":null},"y":{"field":"value","type":"quantitative","title":"Chao Richness Estimate"}}},
    {"mark":{"type":"tick","size":34,"thickness":1.5,"color":"#333"},
     "encoding":{"x":{"field":"group","type":"nominal","title":null},"y":{"aggregate":"mean","field":"value","type":"quantitative","title":"Chao Richness Estimate"}}},
    {"data":{"name":"sigA"},"mark":{"type":"rule","strokeWidth":1.5,"color":"#222"},
     "encoding":{"x":{"field":"from","type":"nominal","title":null,"bandPosition":0.2},"x2":{"field":"to","bandPosition":0.5},"y":{"field":"sy","type":"quantitative","title":"Chao Richness Estimate"}}},
    {"data":{"name":"sigA"},"mark":{"type":"text","fontSize":10,"fontWeight":"bold","dy":-3,"font":"Liberation Serif"},
     "encoding":{"x":{"field":"to","type":"nominal","title":null,"bandPosition":0.5},"y":{"field":"sy","type":"quantitative","title":"Chao Richness Estimate"},"text":{"field":"label"}}}
   ]},
  {"data":{"name":"shannon"},"width":235,"height":168,
   "title":{"text":"b","anchor":"start","frame":"bounds","offset":-33,"fontSize":17,"fontWeight":"normal","font":"Liberation Sans"},
   "layer":[
    {"mark":{"type":"point","filled":true,"size":55,"opacity":1},
     "encoding":{
      "x":{"field":"group","type":"nominal","title":null,"scale":{"domain":["WT vehicle","WT VSL","App NL-G-F Vehicle","App NL-G-F VSL"],"paddingInner":0.5,"paddingOuter":0.3},"axis":{"labels":false,"ticks":false,"domainWidth":1.5,"domainColor":"#333"}},
      "xOffset":{"field":"rep","type":"nominal"},
      "y":{"field":"value","type":"quantitative","title":"Shannon Diversity","scale":{"domain":[0,5],"nice":false},"axis":{"values":[0,1,2,3,4,5],"tickCount":12,"format":"d","labelOverlap":false,"labelFont":"Liberation Serif","labelFontSize":10,"titleFont":"Liberation Sans","titleFontSize":13,"titleFontWeight":"normal","titlePadding":9,"domainWidth":1.5,"domainColor":"#333","tickColor":"#333","tickSize":4,"labelPadding":1,"labelColor":"#333"}},
      "color":{"field":"group","type":"nominal","scale":{"domain":["WT vehicle","WT VSL","App NL-G-F Vehicle","App NL-G-F VSL"],"range":["#93a6dd","#1a9a4a","#111111","#eea12d"]},"legend":{"orient":"top","direction":"horizontal","title":null,"labelFont":"Liberation Serif","labelFontSize":8,"symbolSize":26,"labelOffset":1,"columnPadding":3,"offset":10,"padding":0,"labelColor":"#222"}},
      "shape":{"field":"group","type":"nominal","scale":{"domain":["WT vehicle","WT VSL","App NL-G-F Vehicle","App NL-G-F VSL"],"range":["circle","square","triangle-up","triangle-down"]},"legend":{"orient":"top","direction":"horizontal","title":null,"labelFont":"Liberation Serif","labelFontSize":8,"symbolSize":26,"labelOffset":1,"columnPadding":3,"offset":10,"padding":0,"labelColor":"#222"}}}},
    {"mark":{"type":"errorbar","extent":"stdev","ticks":{"size":19},"thickness":1.5,"color":"#333"},
     "encoding":{"x":{"field":"group","type":"nominal","title":null},"y":{"field":"value","type":"quantitative","title":"Shannon Diversity"}}},
    {"mark":{"type":"tick","size":34,"thickness":1.5,"color":"#333"},
     "encoding":{"x":{"field":"group","type":"nominal","title":null},"y":{"aggregate":"mean","field":"value","type":"quantitative","title":"Shannon Diversity"}}},
    {"data":{"name":"sigB"},"transform":[{"filter":"datum.t=='line'"}],"mark":{"type":"rule","strokeWidth":1.5,"color":"#222"},
     "encoding":{"x":{"field":"from","type":"nominal","title":null,"bandPosition":0.5},"x2":{"field":"to","bandPosition":0.5},"y":{"field":"sy","type":"quantitative","title":"Shannon Diversity"}}},
    {"data":{"name":"sigB"},"transform":[{"filter":"datum.t=='tick'"}],"mark":{"type":"rule","strokeWidth":1.5,"color":"#222"},
     "encoding":{"x":{"field":"at","type":"nominal","title":null,"bandPosition":0.5},"y":{"field":"sy","type":"quantitative","title":"Shannon Diversity"},"y2":{"field":"sy2"}}},
    {"data":{"name":"sigB"},"transform":[{"filter":"datum.t=='lab' && !datum.mid"}],"mark":{"type":"text","fontSize":12,"fontWeight":"bold","dy":-3,"font":"Liberation Serif"},
     "encoding":{"x":{"field":"at","type":"nominal","title":null,"bandPosition":0.5},"y":{"field":"sy","type":"quantitative","title":"Shannon Diversity"},"text":{"field":"label"}}},
    {"data":{"name":"sigB"},"transform":[{"filter":"datum.t=='lab' && datum.mid"}],"mark":{"type":"text","fontSize":9,"dy":-6,"font":"Liberation Serif"},
     "encoding":{"x":{"field":"at","type":"nominal","title":null,"bandPosition":1.5},"y":{"field":"sy","type":"quantitative","title":"Shannon Diversity"},"text":{"field":"label"}}}
   ]}
 ]},
 {"width":10,"height":14,"data":{"values":[]},"mark":"point","encoding":{}},
 {"spacing":0,
  "resolve":{"scale":{"color":"independent","shape":"independent","fill":"independent","xOffset":"independent"}},
  "hconcat":[
  {"width":86,"height":10,"data":{"values":[]},"mark":"point","encoding":{}},
  {"width":226,"height":237,"view":{"stroke":"#c8c8c8"},
   "title":{"text":"c","anchor":"start","frame":"bounds","offset":-22,"fontSize":16,"fontWeight":"normal","font":"Liberation Sans"},
   "layer":[
    {"data":{"name":"hull"},"mark":{"type":"line","interpolate":"linear-closed","fillOpacity":0.22,"strokeWidth":0},
     "encoding":{
      "x":{"field":"a1","type":"quantitative","title":null,"scale":{"domain":[-0.29,0.348],"nice":false,"zero":false},"axis":{"orient":"top","values":[-0.25,-0.15,-0.05,0.05,0.15,0.25],"tickCount":12,"labels":false,"ticks":false,"domain":false,"grid":true,"gridColor":"#f2f2f2"}},
      "y":{"field":"a2","type":"quantitative","title":null,"scale":{"domain":[-0.508,0.24],"nice":false,"zero":false},"axis":{"orient":"right","values":[-0.375,-0.125,0.125],"tickCount":12,"labels":false,"ticks":false,"domain":false,"grid":true,"gridColor":"#f2f2f2"}},
      "fill":{"field":"hg","type":"nominal","scale":{"domain":["WT VSL","WT Vehicle","App NL-G-F VSL","App NL-G-F Vehicle"],"range":["#21a37b","#6ec1ee","#eda62a","#222222"]},"legend":null},
      "order":{"field":"vi","type":"quantitative"}}},
    {"data":{"name":"pcoa"},"mark":{"type":"circle","size":42,"opacity":0.9},
     "encoding":{
      "x":{"field":"a1","type":"quantitative","title":"Axis 1 (29.11%)","axis":{"values":[-0.2,-0.1,0,0.1,0.2,0.3],"tickCount":12,"format":".1f","grid":true,"gridColor":"#e6e6e6","domain":false,"tickColor":"#999","tickSize":3,"labelColor":"#555","labelFontSize":9,"titleFontSize":11,"titleFontWeight":"normal","titlePadding":3}},
      "y":{"field":"a2","type":"quantitative","title":"Axis 2 (14.18%)","axis":{"values":[-0.5,-0.25,0],"tickCount":12,"format":".2f","grid":true,"gridColor":"#e6e6e6","domain":false,"tickColor":"#999","tickSize":3,"labelColor":"#555","labelFontSize":9,"titleFontSize":11,"titleFontWeight":"normal","titlePadding":4}},
      "color":{"field":"group","type":"nominal","scale":{"domain":["WT Vehicle","WT VSL","App NL-G-F Vehicle","App NL-G-F VSL"],"range":["#6ec1ee","#21a37b","#222222","#eda62a"]},"legend":{"orient":"none","legendX":242,"legendY":84,"title":null,"labelFont":"Liberation Serif","labelFontSize":12.5,"symbolSize":110,"symbolType":"circle","symbolOpacity":0.75,"rowPadding":1,"labelOffset":3,"labelColor":"#111"}}}}
   ],
   "resolve":{"axis":{"x":"independent","y":"independent"}}}
 ]},
 {"width":506,"height":225,
  "title":{"text":"d","anchor":"start","frame":"bounds","offset":12,"dx":30,"fontSize":18,"fontWeight":"normal","font":"Liberation Serif"},
  "layer":[
   {"data":{"name":"stack"},"mark":{"type":"bar"},
    "encoding":{
     "x":{"field":"s","type":"nominal","title":null,"scale":{"paddingInner":0.6,"paddingOuter":0.3},"axis":{"labels":false,"ticks":false,"domainWidth":2,"domainColor":"#000"}},
     "y":{"field":"v","type":"quantitative","title":null,"stack":"zero","scale":{"domain":[0,1.2],"nice":false},"axis":{"values":[0,0.2,0.4,0.6,0.8,1.0,1.2],"tickCount":12,"labelOverlap":false,"format":".1f","labelFont":"Liberation Serif","labelFontSize":9,"ticks":false,"domainWidth":2,"domainColor":"#000","labelPadding":10,"labelColor":"#333"}},
     "color":{"field":"p","type":"nominal","scale":{"domain":["p__Firmicutes","p__Unknown","p__Verrucomicrobia","p__Actinobacteria","p__Bacteroidetes","p__Proteobacteria","p__Unclassified","p__Deferribacteres","p__Tenericutes"],"range":["#9e480e","#4472c4","#ffc000","#a5a5a5","#ed7d31","#70ad47","#5b9bd5","#636363","#264478"]},"legend":{"orient":"none","legendX":39,"legendY":-16,"direction":"horizontal","columns":4,"title":null,"labelFont":"Liberation Serif","labelFontSize":11,"labelColor":"#888","symbolType":"square","symbolSize":60,"symbolStrokeWidth":0,"rowPadding":1,"columnPadding":16,"labelOffset":4}},
     "order":{"field":"k","type":"quantitative"}}},
   {"data":{"name":"grp"},"mark":{"type":"rule","strokeWidth":2,"color":"#000"},
    "encoding":{"x":{"field":"from","type":"nominal","title":null,"bandPosition":0.5},"x2":{"field":"to","bandPosition":0.5},"y":{"datum":-0.07,"type":"quantitative"}}},
   {"data":{"name":"grp"},"mark":{"type":"text","font":"Liberation Serif","fontSize":14,"dx":-6,"baseline":"top","color":"#111"},
    "encoding":{"x":{"field":"at","type":"nominal","title":null,"bandPosition":0},"y":{"datum":-0.1,"type":"quantitative"},"text":{"field":"g"}}}
  ]}
]},
{"spacing":0,
 "resolve":{"scale":{"color":"independent","shape":"independent","fill":"independent","xOffset":"independent"}},
 "vconcat":[
 {"data":{"name":"e"},
  "transform":[{"filter":"datum.panel != 'Deferribacteres' && datum.panel != 'FB'"}],
  "title":{"text":"e","anchor":"start","frame":"bounds","offset":-14,"fontSize":17,"fontWeight":"bold","font":"Liberation Serif"},
  "facet":{"field":"panel","type":"nominal","sort":["Firmicutes","Unknown","Bacteroidetes","Proteobacteria","Verrucomicrobia","Actinobacteria","Unclassified","Tenericutes"],"header":{"title":null,"labelFont":"Liberation Serif","labelFontWeight":"bold","labelFontSize":12,"labelPadding":3}},
  "columns":2,
  "spacing":{"row":3,"column":45},
  "resolve":{"scale":{"y":"independent"},"axis":{"x":"independent","y":"independent"}},
  "spec":{"width":150,"height":98,"layer":[
   {"transform":[{"filter":"datum.kind=='pt'"}],"mark":{"type":"bar","stroke":"#000","strokeWidth":1.6},
    "encoding":{
     "x":{"field":"group","type":"nominal","title":null,"scale":{"domain":["WV","WS","AV","AS"],"paddingInner":0.35,"paddingOuter":0.3},"axis":{"labelExpr":"datum.value=='WV'?'WT vehicle':datum.value=='WS'?'WT VSL':datum.value=='AV'?'App NLGF Vehicle':'App NLGF VSL'","labelAngle":-30,"labelFont":"Liberation Serif","labelFontWeight":"bold","labelFontSize":7,"domainWidth":1.5,"domainColor":"#000","tickColor":"#000","tickSize":3,"labelPadding":2,"labelColor":"#111"}},
     "y":{"aggregate":"mean","field":"value","type":"quantitative","title":"Average relative abundance","scale":{"nice":4},"axis":{"tickCount":4,"labelFont":"Liberation Serif","labelFontWeight":"bold","labelFontSize":8.5,"titleFont":"Liberation Serif","titleFontWeight":"bold","titleFontSize":9.5,"domainWidth":1.5,"domainColor":"#000","tickColor":"#000","tickSize":3,"titlePadding":4,"labelPadding":2,"labelColor":"#111"}},
     "color":{"field":"group","type":"nominal","scale":{"domain":["WV","WS","AV","AS"],"range":["#c9dcf4","#b4e2ad","#f6a5a1","#a8a8a8"]},"legend":null}}},
   {"transform":[{"filter":"datum.kind=='pt'"}],"mark":{"type":"point","filled":true,"color":"#000","size":16,"opacity":1},
    "encoding":{"x":{"field":"group","type":"nominal","title":null},"xOffset":{"field":"rep","type":"nominal"},"y":{"field":"value","type":"quantitative","title":"Average relative abundance"},
     "shape":{"field":"group","type":"nominal","scale":{"domain":["WV","WS","AV","AS"],"range":["circle","square","triangle-up","triangle-down"]},"legend":null}}},
   {"transform":[{"filter":"datum.kind=='pt'"}],"mark":{"type":"errorbar","extent":"stderr","ticks":{"size":10},"thickness":1.5,"color":"#000"},
    "encoding":{"x":{"field":"group","type":"nominal","title":null},"y":{"field":"value","type":"quantitative","title":"Average relative abundance"}}},
   {"transform":[{"filter":"datum.kind=='sig' && isValid(datum.from)"}],"mark":{"type":"rule","strokeWidth":1.2,"color":"#000"},
    "encoding":{"x":{"field":"from","type":"nominal","title":null,"bandPosition":0},"x2":{"field":"to","bandPosition":1},"y":{"field":"sy","type":"quantitative","title":"Average relative abundance"}}},
   {"transform":[{"filter":"datum.kind=='sig' && !datum.mid"}],"mark":{"type":"text","font":"Liberation Serif","fontSize":8,"dy":-5,"color":"#222"},
    "encoding":{"x":{"field":"at","type":"nominal","title":null,"bandPosition":0.5},"y":{"field":"sy","type":"quantitative","title":"Average relative abundance"},"text":{"field":"label"}}},
   {"transform":[{"filter":"datum.kind=='sig' && datum.mid"}],"mark":{"type":"text","font":"Liberation Serif","fontSize":8,"dy":-5,"color":"#222"},
    "encoding":{"x":{"field":"at","type":"nominal","title":null,"bandPosition":1.27},"y":{"field":"sy","type":"quantitative","title":"Average relative abundance"},"text":{"field":"label"}}}
  ]}},
 {"spacing":42,
  "resolve":{"scale":{"color":"independent","shape":"independent","fill":"independent","xOffset":"independent"}},
  "hconcat":[
  {"data":{"name":"e"},"transform":[{"filter":"datum.panel == 'Deferribacteres'"}],"width":150,"height":98,
   "title":{"text":"Deferribacteres","frame":"group","font":"Liberation Serif","fontWeight":"bold","fontSize":12,"offset":1},
   "layer":[
   {"transform":[{"filter":"datum.kind=='pt'"}],"mark":{"type":"bar","stroke":"#000","strokeWidth":1.6},
    "encoding":{
     "x":{"field":"group","type":"nominal","title":null,"scale":{"domain":["WV","WS","AV","AS"],"paddingInner":0.35,"paddingOuter":0.3},"axis":{"labelExpr":"datum.value=='WV'?'WT vehicle':datum.value=='WS'?'WT VSL':datum.value=='AV'?'App NLGF Vehicle':'App NLGF VSL'","labelAngle":-30,"labelFont":"Liberation Serif","labelFontWeight":"bold","labelFontSize":7,"domainWidth":1.5,"domainColor":"#000","tickColor":"#000","tickSize":3,"labelPadding":2,"labelColor":"#111"}},
     "y":{"aggregate":"mean","field":"value","type":"quantitative","title":"Average relative abundance","scale":{"nice":4},"axis":{"tickCount":4,"labelFont":"Liberation Serif","labelFontWeight":"bold","labelFontSize":8.5,"titleFont":"Liberation Serif","titleFontWeight":"bold","titleFontSize":9.5,"domainWidth":1.5,"domainColor":"#000","tickColor":"#000","tickSize":3,"titlePadding":4,"labelPadding":2,"labelColor":"#111"}},
     "color":{"field":"group","type":"nominal","scale":{"domain":["WV","WS","AV","AS"],"range":["#c9dcf4","#b4e2ad","#f6a5a1","#a8a8a8"]},"legend":null}}},
   {"transform":[{"filter":"datum.kind=='pt'"}],"mark":{"type":"point","filled":true,"color":"#000","size":16,"opacity":1},
    "encoding":{"x":{"field":"group","type":"nominal","title":null},"xOffset":{"field":"rep","type":"nominal"},"y":{"field":"value","type":"quantitative","title":"Average relative abundance"},
     "shape":{"field":"group","type":"nominal","scale":{"domain":["WV","WS","AV","AS"],"range":["circle","square","triangle-up","triangle-down"]},"legend":null}}},
   {"transform":[{"filter":"datum.kind=='pt'"}],"mark":{"type":"errorbar","extent":"stderr","ticks":{"size":10},"thickness":1.5,"color":"#000"},
    "encoding":{"x":{"field":"group","type":"nominal","title":null},"y":{"field":"value","type":"quantitative","title":"Average relative abundance"}}},
   {"transform":[{"filter":"datum.kind=='sig' && isValid(datum.from)"}],"mark":{"type":"rule","strokeWidth":1.2,"color":"#000"},
    "encoding":{"x":{"field":"from","type":"nominal","title":null,"bandPosition":0},"x2":{"field":"to","bandPosition":1},"y":{"field":"sy","type":"quantitative","title":"Average relative abundance"}}},
   {"transform":[{"filter":"datum.kind=='sig' && datum.mid"}],"mark":{"type":"text","font":"Liberation Serif","fontSize":8,"dy":-5,"color":"#222"},
    "encoding":{"x":{"field":"at","type":"nominal","title":null,"bandPosition":1.27},"y":{"field":"sy","type":"quantitative","title":"Average relative abundance"},"text":{"field":"label"}}}
  ]},
  {"data":{"name":"e"},"transform":[{"filter":"datum.panel == 'FB'"}],"width":150,"height":98,
   "title":{"text":"Firmicutes/Bacteroidetes","frame":"group","font":"Liberation Serif","fontWeight":"bold","fontSize":12,"offset":1},
   "layer":[
   {"transform":[{"filter":"datum.kind=='pt'"}],"mark":{"type":"bar","stroke":"#000","strokeWidth":1.6},
    "encoding":{
     "x":{"field":"group","type":"nominal","title":null,"scale":{"domain":["WV","WS","AV","AS"],"paddingInner":0.35,"paddingOuter":0.3},"axis":{"labelExpr":"datum.value=='WV'?'WT vehicle':datum.value=='WS'?'WT VSL':datum.value=='AV'?'App NLGF Vehicle':'App NLGF VSL'","labelAngle":-30,"labelFont":"Liberation Serif","labelFontWeight":"bold","labelFontSize":7,"domainWidth":1.5,"domainColor":"#000","tickColor":"#000","tickSize":3,"labelPadding":2,"labelColor":"#111"}},
     "y":{"aggregate":"mean","field":"value","type":"quantitative","title":["Ratio of Firmicutes/","Bacteroidetes"],"scale":{"nice":4},"axis":{"tickCount":4,"labelFont":"Liberation Serif","labelFontWeight":"bold","labelFontSize":8.5,"titleFont":"Liberation Serif","titleFontWeight":"bold","titleFontSize":9.5,"domainWidth":1.5,"domainColor":"#000","tickColor":"#000","tickSize":3,"titlePadding":4,"labelPadding":2,"labelColor":"#111"}},
     "color":{"field":"group","type":"nominal","scale":{"domain":["WV","WS","AV","AS"],"range":["#c9dcf4","#b4e2ad","#f6a5a1","#a8a8a8"]},"legend":null}}},
   {"transform":[{"filter":"datum.kind=='pt'"}],"mark":{"type":"point","filled":true,"color":"#000","size":16,"opacity":1},
    "encoding":{"x":{"field":"group","type":"nominal","title":null},"xOffset":{"field":"rep","type":"nominal"},"y":{"field":"value","type":"quantitative","title":["Ratio of Firmicutes/","Bacteroidetes"]},
     "shape":{"field":"group","type":"nominal","scale":{"domain":["WV","WS","AV","AS"],"range":["circle","square","triangle-up","triangle-down"]},"legend":null}}},
   {"transform":[{"filter":"datum.kind=='pt'"}],"mark":{"type":"errorbar","extent":"stderr","ticks":{"size":10},"thickness":1.5,"color":"#000"},
    "encoding":{"x":{"field":"group","type":"nominal","title":null},"y":{"field":"value","type":"quantitative","title":["Ratio of Firmicutes/","Bacteroidetes"]}}}
  ]}
 ]}
]}
]
}
